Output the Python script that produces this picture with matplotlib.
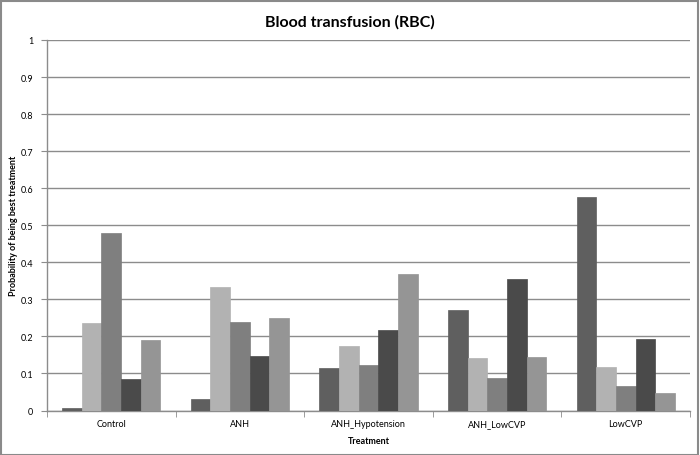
import matplotlib
matplotlib.use("Agg")
import matplotlib.pyplot as plt
import numpy as np

categories = ["Control", "ANH", "ANH_Hypotension", "ANH_LowCVP", "LowCVP"]
series1 = [0.008, 0.030, 0.115, 0.270, 0.576]
series2 = [0.235, 0.332, 0.173, 0.143, 0.117]
series3 = [0.480, 0.238, 0.123, 0.088, 0.065]
series4 = [0.084, 0.147, 0.218, 0.355, 0.193]
series5 = [0.190, 0.249, 0.368, 0.144, 0.046]
series = [series1, series2, series3, series4, series5]
colors = ["#5f5f5f", "#b2b2b2", "#7f7f7f", "#4a4a4a", "#959595"]
yticks = [0, 0.1, 0.2, 0.3, 0.4, 0.5, 0.6, 0.7, 0.8, 0.9, 1]
ytick_labels = ["0", "0.1", "0.2", "0.3", "0.4", "0.5", "0.6", "0.7", "0.8", "0.9", "1"]

plt.rcParams['font.family'] = ['Lato', 'DejaVu Sans']

W, H = 700, 456
fig = plt.figure(figsize=(W / 100, H / 100), dpi=100)
# figure border
fig.patches.append(plt.Rectangle((0.5 / W, 0.5 / H), 1 - 2.5 / W, 1 - 2.5 / H,
                                 transform=fig.transFigure, fill=False,
                                 edgecolor="#8a8a8a", linewidth=1.5))

left, right, top, bottom = 47, 690, 41, 411.5
ax = fig.add_axes([left / W, 1 - bottom / H, (right - left) / W, (bottom - top) / H])

n = len(series)
width = 0.153
x = np.arange(len(categories))
for i, (vals, c) in enumerate(zip(series, colors)):
    offs = (i - (n - 1) / 2) * width
    ax.bar(x + offs, vals, width=width, color=c, edgecolor=c, linewidth=0.5, zorder=3)

ax.set_xlim(-0.5, len(categories) - 0.5)
ax.set_ylim(0, 1)
ax.set_yticks(yticks)
ax.set_yticklabels(ytick_labels, fontsize=6.5)
ax.set_xticks(x)
ax.set_xticklabels(categories, fontsize=6.5)
ax.set_xticks(np.arange(len(categories) + 1) - 0.5, minor=True)
ax.tick_params(axis='x', which='major', length=0, pad=6)
ax.tick_params(axis='x', which='minor', length=4, color="#8c8c8c", direction='out')
ax.tick_params(axis='y', length=4, color="#8c8c8c", direction='out', pad=6)

ax.grid(axis='y', color="#8c8c8c", linewidth=1.0, zorder=0)
for s in ['top', 'right']:
    ax.spines[s].set_visible(False)
for s in ['left', 'bottom']:
    ax.spines[s].set_color("#8c8c8c")
    ax.spines[s].set_linewidth(1.0)

ax.set_xlabel("Treatment", fontsize=6.5, fontweight='bold', labelpad=6)
ax.set_ylabel("Probability of being best treatment", fontsize=6.5, fontweight='bold', labelpad=1.5)
fig.text(0.5, 1 - 22 / H, "Blood transfusion (RBC)", ha='center', va='center',
         fontsize=11.5, fontweight='bold')

fig.savefig("out.png", dpi=100)
